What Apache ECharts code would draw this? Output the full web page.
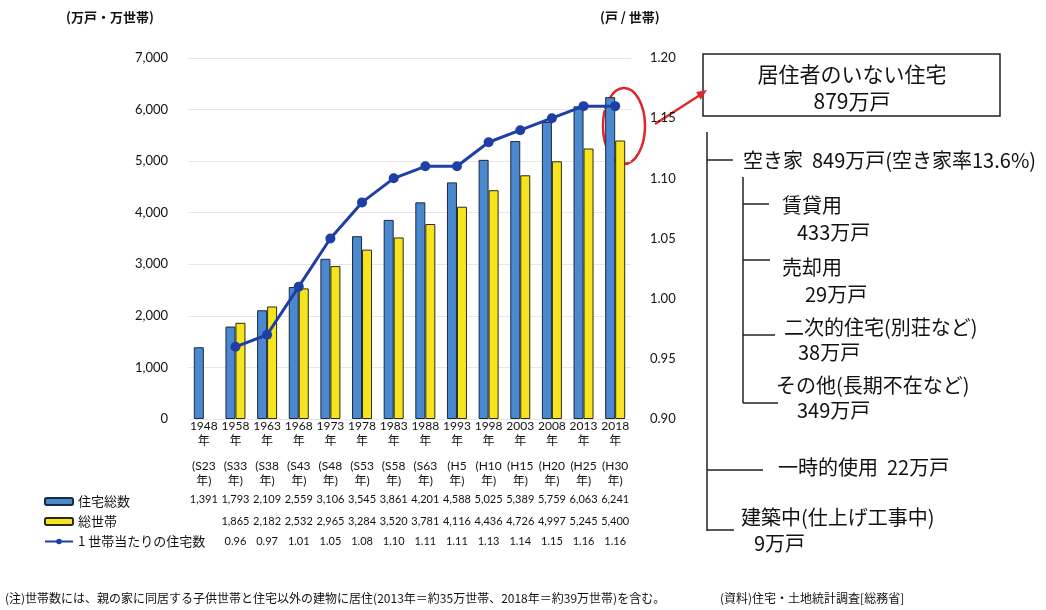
<!DOCTYPE html>
<html>
<head>
<meta charset="utf-8">
<script src="https://cdn.jsdelivr.net/npm/echarts@6/dist/echarts.min.js"></script>
<style>html,body{margin:0;padding:0;background:#fff;}#c{width:1046px;height:610px;}</style>
</head>
<body>
<div id="c"></div>
<script>
const years = ['1948','1958','1963','1968','1973','1978','1983','1988','1993','1998','2003','2008','2013','2018'];
const eras = ['S23','S33','S38','S43','S48','S53','S58','S63','H5','H10','H15','H20','H25','H30'];
const houses = [1391,1793,2109,2559,3106,3545,3861,4201,4588,5025,5389,5759,6063,6241];
const households = [null,1865,2182,2532,2965,3284,3520,3781,4116,4436,4726,4997,5245,5400];
const ratio = [null,0.96,0.97,1.01,1.05,1.08,1.10,1.11,1.11,1.13,1.14,1.15,1.16,1.16];
const seriesNames = ['住宅総数','総世帯','1 世帯当たりの住宅数'];
const leftTicks = {min:0, max:7000, interval:1000};
const rightTicks = {min:0.90, max:1.20, interval:0.05};

const NUMF = "Lato, 'Noto Sans CJK JP', sans-serif";
const JPF = "'Noto Sans CJK JP', sans-serif";
const fmt = v => (v == null ? '' : v.toLocaleString('en-US'));

function tableAxis(offset, formatter, size) {
  return {
    type:'category', data: years, position:'bottom', offset: offset, gridIndex:0,
    axisLine:{show:false}, axisTick:{show:false}, splitLine:{show:false},
    axisLabel:{interval:0, margin:0, color:'#111', fontFamily:NUMF, fontSize:size || 12, lineHeight:15, formatter: formatter}
  };
}

const chart = echarts.init(document.getElementById('c'), null, {renderer:'canvas'});
const TXT = '#111';
function t(text, x, y, size, opts) {
  return Object.assign({type:'text', x:x, y:y, silent:true,
    style:Object.assign({text:text, fill:TXT, font: (size) + 'px ' + JPF, align:'left', verticalAlign:'middle'}, (opts||{}))});
}
function ln(x1,y1,x2,y2,color,w){
  return {type:'line', silent:true, shape:{x1:x1,y1:y1,x2:x2,y2:y2}, style:{stroke:color||'#222', lineWidth:w||1.5}};
}

const option = {
  animation:false,
  backgroundColor:'#ffffff',
  grid:{left:188, right:415, top:58, bottom:191},
  legend:{
    orient:'vertical', left:39, top:490, itemWidth:28, itemHeight:7, itemGap:7,
    data: seriesNames,
    textStyle:{fontFamily:JPF, fontSize:13, color:'#111', lineHeight:13},
    selectedMode:false
  },
  xAxis:[
    tableAxis(0, v => v + '\n年', 12),
    tableAxis(40, (v, i) => '(' + eras[i] + '\n年)', 12),
    tableAxis(73, (v, i) => fmt(houses[i]), 11),
    tableAxis(95, (v, i) => fmt(households[i]), 11),
    tableAxis(115, (v, i) => ratio[i] == null ? '' : ratio[i].toFixed(2), 11)
  ],
  yAxis:[
    {type:'value', min:leftTicks.min, max:leftTicks.max, interval:leftTicks.interval, position:'left',
     axisLine:{show:false}, axisTick:{show:false},
     splitLine:{show:true, lineStyle:{color:'#e6e6e6', width:1}},
     axisLabel:{margin:20, color:'#111', fontFamily:NUMF, fontSize:13, formatter: v => v.toLocaleString('en-US')}},
    {type:'value', min:rightTicks.min, max:rightTicks.max, interval:rightTicks.interval, position:'right',
     axisLine:{show:false}, axisTick:{show:false}, splitLine:{show:false},
     axisLabel:{margin:19, color:'#111', fontFamily:NUMF, fontSize:13, formatter: v => v.toFixed(2)}}
  ],
  series:[
    {name:seriesNames[0], type:'bar', xAxisIndex:0, yAxisIndex:0, data:houses, barWidth:10, barGap:'0%',
     itemStyle:{color:'#4a88cf', borderColor:'#1c2a40', borderWidth:1}},
    {name:seriesNames[1], type:'bar', xAxisIndex:0, yAxisIndex:0, data:households, barWidth:10,
     itemStyle:{color:'#f6e51e', borderColor:'#2a2a10', borderWidth:1}},
    {name:seriesNames[2], type:'line', xAxisIndex:0, yAxisIndex:1, data:ratio, symbol:'circle', symbolSize:10,
     lineStyle:{color:'#1e3fa6', width:3}, itemStyle:{color:'#1e3fa6'}, connectNulls:false, z:5}
  ],
  graphic:[
    t('(万戸・万世帯)', 66, 17, 13, {font:'bold 13px ' + JPF}),
    t('(戸 / 世帯)', 600, 17, 13, {font:'bold 13px ' + JPF}),
    {type:'rect', silent:true, shape:{x:703,y:54,width:297,height:62}, style:{fill:'#fff', stroke:'#222', lineWidth:1.5}},
    t('居住者のいない住宅', 852, 74, 21, {align:'center'}),
    t('879万戸', 852, 101, 21, {align:'center'}),
    ln(655,124,700,95,'#e0262a',2.4),
    {type:'polygon', silent:true, shape:{points:[[707,90],[700.6,99.8],[696.2,92.0]]}, style:{fill:'#e0262a'}},
    {type:'ellipse', silent:true, shape:{cx:624, cy:126, rx:21, ry:38}, style:{fill:'none', stroke:'#e0262a', lineWidth:2.5}},
    // tree
    ln(707,132,707,531), ln(707,160,733,160), ln(707,470,763,470), ln(707,530,734,530),
    ln(743,177,743,403), ln(743,204,769,204), ln(743,260,770,260), ln(743,335,775,335), ln(743,403,778,403),
    t('空き家  849万戸(空き家率13.6%)', 743, 160, 20),
    t('賃貸用', 782, 205, 20),
    t('433万戸', 797, 232, 20),
    t('売却用', 782, 267, 20),
    t('29万戸', 805, 294, 20),
    t('二次的住宅(別荘など)', 784, 327, 20),
    t('38万戸', 798, 352, 20),
    t('その他(長期不在など)', 776, 385, 20),
    t('349万戸', 797, 410, 20),
    t('一時的使用  22万戸', 778, 467, 20),
    t('建築中(仕上げ工事中)', 741, 517, 20),
    t('9万戸', 754, 543, 20),
    t('(注)世帯数には、親の家に同居する子供世帯と住宅以外の建物に居住(2013年＝約35万世帯、2018年＝約39万世帯)を含む。', 5, 598, 12),
    t('(資料)住宅・土地統計調査[総務省]', 720, 598, 12)
  ]
};
chart.setOption(option);
</script>
</body>
</html>
